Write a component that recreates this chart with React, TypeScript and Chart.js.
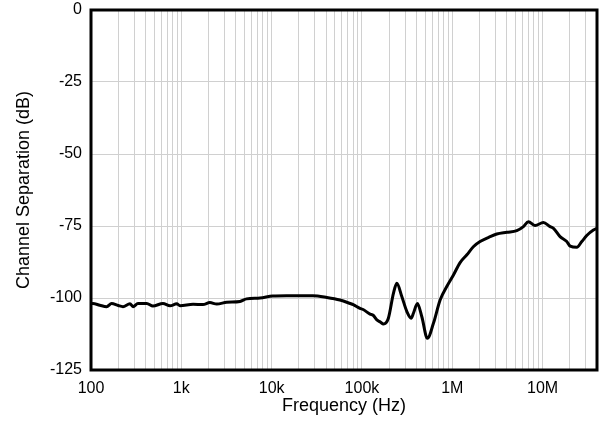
import React, { useEffect, useRef } from "react";
import { Chart, registerables } from "chart.js";

Chart.register(...registerables);

// Frequency (Hz) and channel separation (dB)
const freqHz: number[] = [
  100, 105, 125, 149, 169, 200, 226, 270, 292, 331, 414, 485, 626, 750, 890, 968,
  1350, 1735, 2070, 2470, 3180, 4460, 5280, 7430, 10300, 14600, 28600, 40900,
  57000, 74000, 80000, 95000, 103000, 123000, 133000, 146000, 159000, 173000,
  196000, 223000, 243000, 276000, 314000, 350000, 371000, 411000, 460000, 530000,
  618000, 733000, 869000, 1030000, 1220000, 1450000, 1710000, 2030000, 2620000,
  3110000, 4020000, 5180000, 6130000, 6960000, 8260000, 10200000, 12100000,
  13200000, 15600000, 18500000, 20200000, 23900000, 27000000, 30800000, 36500000,
  40000000,
];
const separationDb: number[] = [
  -102, -101.9, -102.5, -103, -101.9, -102.6, -103, -102, -103, -101.9, -101.9,
  -102.8, -101.9, -102.7, -102, -102.7, -102.2, -102.3, -101.6, -102.1, -101.5,
  -101.2, -100.3, -100, -99.3, -99.2, -99.2, -99.8, -100.7, -101.9, -102.3, -103.6,
  -104, -105.6, -106, -107.6, -108.3, -109, -107, -98.4, -94.9, -99.5, -104.7, -107,
  -105.3, -101.9, -106.5, -114, -108.8, -100.7, -96, -92, -87.7, -85, -82.2, -80.4,
  -78.7, -77.8, -77.2, -76.6, -75.2, -73.5, -74.8, -73.8, -75.2, -75.8, -78.7,
  -80.4, -82, -82.4, -80.5, -78.3, -76.4, -75.8,
];

const xTickValues: number[] = [];
for (let e = 2; e <= 7; e++) {
  for (let s = 1; s <= 9; s++) {
    const v = s * Math.pow(10, e);
    if (v <= 40000000) xTickValues.push(v);
  }
}
const xDecades: number[] = [100, 1000, 10000, 100000, 1000000, 10000000];
const xDecadeLabels: string[] = ["100", "1k", "10k", "100k", "1M", "10M"];

const yMin = -125;
const yMax = 0;
const yStep = 25;

const FONT = "'Liberation Sans', Arial, Helvetica, sans-serif";

const frame = {
  id: "frame",
  afterDraw(chart: any) {
    const { ctx, chartArea } = chart;
    ctx.save();
    ctx.strokeStyle = "#000";
    ctx.lineWidth = 3;
    ctx.strokeRect(
      chartArea.left,
      chartArea.top,
      chartArea.right - chartArea.left,
      chartArea.bottom - chartArea.top
    );
    ctx.restore();
  },
};

export default function App() {
  const ref = useRef<HTMLCanvasElement | null>(null);

  useEffect(() => {
    if (!ref.current) return;
    const points = freqHz.map((f, i) => ({ x: f, y: separationDb[i] }));
    const chart = new Chart(ref.current, {
      type: "line",
      data: {
        datasets: [
          {
            data: points,
            borderColor: "#000",
            borderWidth: 3,
            pointRadius: 0,
            cubicInterpolationMode: "monotone",
            fill: false,
          },
        ],
      },
      plugins: [frame],
      options: {
        responsive: false,
        animation: false,
        layout: { padding: { top: 10, right: 3, left: 0, bottom: 0 } },
        plugins: { legend: { display: false }, tooltip: { enabled: false } },
        scales: {
          x: {
            type: "logarithmic",
            min: 100,
            max: 40000000,
            afterBuildTicks: (scale: any) => {
              scale.ticks = xTickValues.map((v) => ({ value: v }));
            },
            afterFit: (scale: any) => {
              scale.height = 57;
              scale.paddingLeft = 0;
              scale.paddingRight = 0;
            },
            ticks: {
              autoSkip: false,
              maxRotation: 0,
              minRotation: 0,
              padding: 9,
              color: "#000",
              font: { family: FONT, size: 16 },
              callback: (value: any) => {
                const idx = xDecades.indexOf(Number(value));
                return idx >= 0 ? xDecadeLabels[idx] : "";
              },
            },
            grid: { color: "#d0d0d0", lineWidth: 1, drawTicks: false },
            border: { display: false },
            title: {
              display: true,
              text: "Frequency (Hz)",
              color: "#000",
              font: { family: FONT, size: 18 },
              padding: { top: 0, bottom: 10 },
            },
          },
          y: {
            type: "linear",
            min: yMin,
            max: yMax,
            afterFit: (scale: any) => {
              scale.width = 91;
              scale.paddingTop = 0;
              scale.paddingBottom = 0;
            },
            ticks: {
              stepSize: yStep,
              padding: 9,
              color: "#000",
              font: { family: FONT, size: 16 },
            },
            grid: { color: "#d0d0d0", lineWidth: 1, drawTicks: false },
            border: { display: false },
            title: {
              display: true,
              text: "Channel Separation (dB)",
              color: "#000",
              font: { family: FONT, size: 18 },
              padding: { top: 13, bottom: 0 },
            },
          },
        },
      },
    });
    return () => chart.destroy();
  }, []);

  return (
    <div style={{ position: "fixed", left: 0, top: 0, width: 600, height: 427, background: "#fff" }}>
      <canvas ref={ref} width={600} height={427} />
    </div>
  );
}
